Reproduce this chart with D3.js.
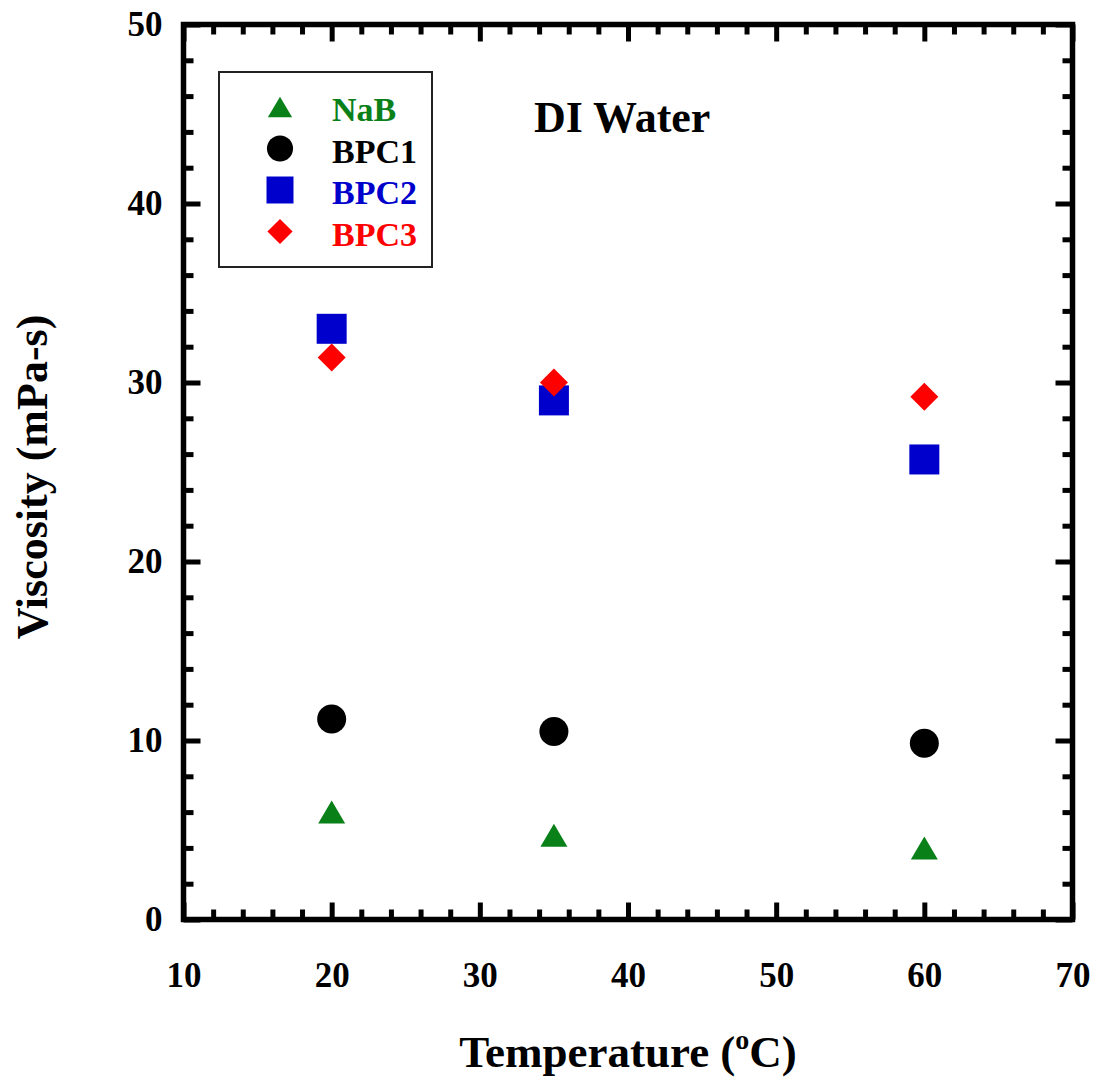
<!DOCTYPE html>
<html>
<head>
<meta charset="UTF-8" />
<script src="https://cdn.jsdelivr.net/npm/d3@7"></script>
<style>
  body { margin: 0; background: #fff; }
  text { font-family: "Liberation Serif", "Times New Roman", serif; font-weight: bold; }
</style>
</head>
<body>
<div id="chart"></div>
<script>
// data
const temps = [20, 35, 60];
const nab = [6.0, 4.7, 4.0];
const bpc1 = [11.2, 10.5, 9.85];
const bpc2 = [33.0, 29.0, 25.7];
const bpc3 = [31.4, 30.0, 29.2];
const xTicks = [10, 20, 30, 40, 50, 60, 70];
const yTicks = [0, 10, 20, 30, 40, 50];

const series = [
  { name: "NaB", values: nab, color: "#0a8018", shape: "triangle" },
  { name: "BPC1", values: bpc1, color: "#000000", shape: "circle" },
  { name: "BPC2", values: bpc2, color: "#0000cc", shape: "square" },
  { name: "BPC3", values: bpc3, color: "#ff0000", shape: "diamond" }
];

const W = 1098, H = 1081;
const margin = { top: 24.5, right: 25.5, bottom: 161.5, left: 183.5 };
const width = W - margin.left - margin.right,
  height = H - margin.top - margin.bottom;

const svg = d3.select("#chart").append("svg")
  .attr("width", W).attr("height", H);
const g = svg.append("g")
  .attr("transform", "translate(" + margin.left + "," + margin.top + ")");

const x = d3.scaleLinear().domain([10, 70]).range([0, width]);
const y = d3.scaleLinear().domain([0, 50]).range([height, 0]);

const minorX = d3.range(10, 70.1, 2).filter(d => d % 10 !== 0);
const minorY = d3.range(0, 50.1, 2).filter(d => d % 10 !== 0);

function styleAxis(sel, fs) {
  sel.select(".domain").remove();
  sel.selectAll(".tick line").attr("stroke", "#000").attr("stroke-width", 5);
  sel.selectAll(".tick text").attr("fill", "#000").style("font-size", fs + "px")
    .style("font-family", "'Liberation Serif', serif").style("font-weight", "bold");
}

// bottom
g.append("g").attr("transform", "translate(0," + height + ")")
  .call(d3.axisBottom(x).tickValues(xTicks).tickSize(-17).tickSizeOuter(0).tickPadding(43).tickFormat(d3.format("d")))
  .call(s => styleAxis(s, 35));
g.append("g").attr("transform", "translate(0," + height + ")")
  .call(d3.axisBottom(x).tickValues(minorX).tickSize(-10).tickSizeOuter(0).tickFormat(""))
  .call(s => styleAxis(s, 35));
// top
g.append("g")
  .call(d3.axisTop(x).tickValues(xTicks).tickSize(-17).tickSizeOuter(0).tickFormat(""))
  .call(s => styleAxis(s, 35));
g.append("g")
  .call(d3.axisTop(x).tickValues(minorX).tickSize(-10).tickSizeOuter(0).tickFormat(""))
  .call(s => styleAxis(s, 35));
// left
g.append("g")
  .call(d3.axisLeft(y).tickValues(yTicks).tickSize(-17).tickSizeOuter(0).tickPadding(21).tickFormat(d3.format("d")))
  .call(s => styleAxis(s, 35));
g.append("g")
  .call(d3.axisLeft(y).tickValues(minorY).tickSize(-10).tickSizeOuter(0).tickFormat(""))
  .call(s => styleAxis(s, 35));
// right
g.append("g").attr("transform", "translate(" + width + ",0)")
  .call(d3.axisRight(y).tickValues(yTicks).tickSize(-17).tickSizeOuter(0).tickFormat(""))
  .call(s => styleAxis(s, 35));
g.append("g").attr("transform", "translate(" + width + ",0)")
  .call(d3.axisRight(y).tickValues(minorY).tickSize(-10).tickSizeOuter(0).tickFormat(""))
  .call(s => styleAxis(s, 35));

// frame
g.append("rect").attr("x", 0).attr("y", 0).attr("width", width).attr("height", height)
  .attr("fill", "none").attr("stroke", "#000").attr("stroke-width", 5.5);

// marker shapes, centred on their bounding box
function shapePath(shape) {
  if (shape === "triangle") return "M0,-11.5L13.5,11.5L-13.5,11.5Z";
  if (shape === "square") return "M-15,-15H15V15H-15Z";
  if (shape === "diamond") return "M0,-14L14,0L0,14L-14,0Z";
  return d3.symbol(d3.symbolCircle, Math.PI * 14.5 * 14.5)();
}

series.forEach(function (s) {
  g.append("g").selectAll("path")
    .data(temps.map((t, i) => ({ t: t, v: s.values[i] })))
    .join("path")
    .attr("transform", d => "translate(" + x(d.t) + "," + y(d.v) + ")")
    .attr("d", shapePath(s.shape))
    .attr("fill", s.color);
});

// legend
const lg = svg.append("g").attr("transform", "translate(219,72)");
lg.append("rect").attr("width", 213).attr("height", 195)
  .attr("fill", "#fff").attr("stroke", "#222").attr("stroke-width", 2);
series.forEach(function (s, i) {
  const row = lg.append("g").attr("transform", "translate(0," + (36 + i * 41.5) + ")");
  row.append("path")
    .attr("d", shapePath(s.shape)).attr("fill", s.color)
    .attr("transform", "translate(61,-1) scale(0.9)");
  row.append("text").attr("x", 113).attr("y", 13)
    .attr("fill", s.color).style("font-size", "34px").text(s.name);
});

svg.append("text").attr("x", 534).attr("y", 132)
  .style("font-size", "44px").attr("fill", "#000").text("DI Water");

// axis titles
const xt = svg.append("text").attr("x", 628).attr("y", 1067)
  .attr("text-anchor", "middle").style("font-size", "45px").attr("fill", "#000");
xt.append("tspan").text("Temperature (");
xt.append("tspan").attr("dy", -18).style("font-size", "28px").text("o");
xt.append("tspan").attr("dy", 18).text("C)");

svg.append("text")
  .attr("transform", "translate(47,477) rotate(-90)")
  .attr("text-anchor", "middle").style("font-size", "44px").attr("fill", "#000")
  .text("Viscosity (mPa-s)");
</script>
</body>
</html>
